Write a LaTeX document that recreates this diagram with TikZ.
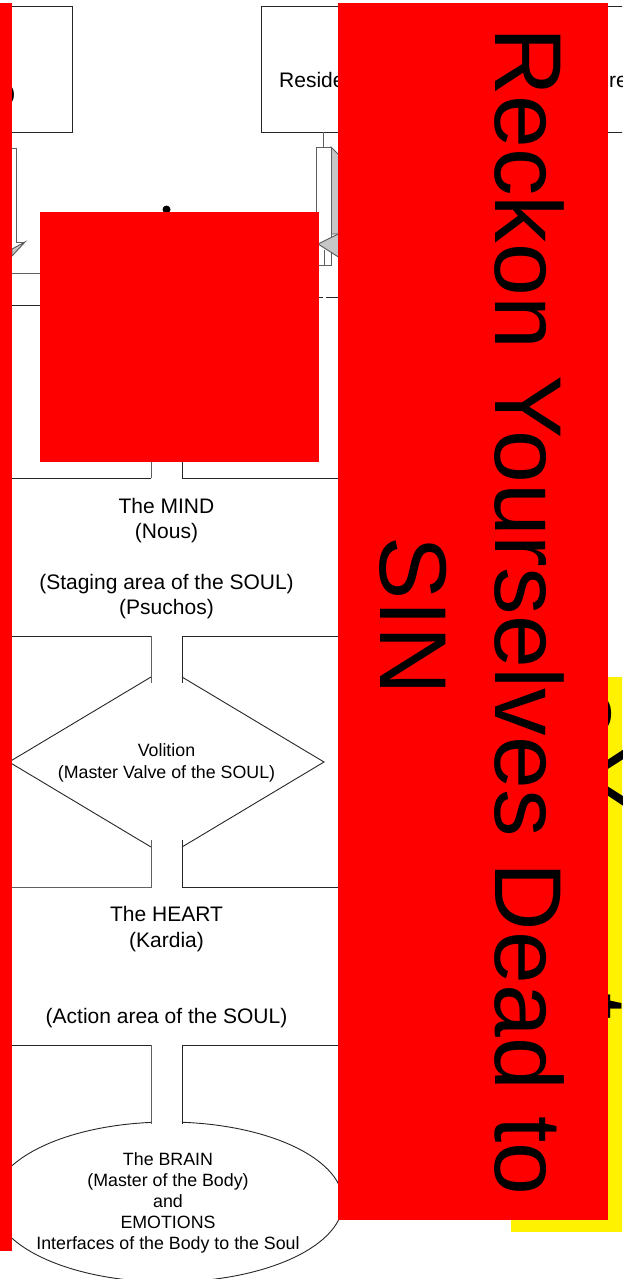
\documentclass[tikz,border=0pt]{standalone}
\usepackage{fontspec}
\setmainfont{Liberation Sans}
\begin{document}
\begin{tikzpicture}[x=1pt,y=-1pt,
  ln/.style={line width=0.9pt, draw=black!85},
  lng/.style={line width=0.9pt, draw=gray!75!black},
  txt/.style={font=\fontsize{21}{25.3}\selectfont, align=center, inner sep=0pt},
  stxt/.style={font=\fontsize{17.8}{21.5}\selectfont, align=center, inner sep=0pt},
  big/.style={font=\fontsize{95}{114}\selectfont, inner sep=0pt, rotate=-90, anchor=base},
  redbox/.style={fill=red, draw=none},
  yellowbox/.style={fill=yellow, draw=none},
  arrowface/.style={fill=gray!45, draw=gray!70!black, line width=0.9pt}
]
\useasboundingbox (0,0) rectangle (622,1279);
\clip (0,0) rectangle (622,1279);

% yellow box (behind the red one)
\fill[yellowbox] (511,677) rectangle (640,1232);
\node[big] (ye) at (560,714) {e};
\node[big] (yY) at (560,778) {Y};
\node[big] (yt) at (560,1007) {t};

% top boxes
\draw[ln] (-5,6) rectangle (72.5,132);
\node[txt, anchor=east] (lefttxt) at (15.5,95) {)};
\draw[ln] (261.5,6) rectangle (660,132);
\node[txt, anchor=base west] (res) at (279,88) {Reside};
\node[txt, anchor=base west] (re) at (609,88) {re};

% left block arrow
\draw[lng] (5,148) -- (16.7,148) -- (16.7,242) -- (25,242);
\filldraw[arrowface] (25,242) -- (12,256) -- (12,249) -- cycle;

% right block arrow
\coordinate (rtop) at (323,132);
\coordinate (rarr) at (323,147);
\draw[lng] (rtop) -- (rarr);
\filldraw[arrowface] (331,147) -- (340,156) -- (340,234) -- (331,234) -- cycle;
\draw[lng, fill=white] (316,147) rectangle (331,265);
\filldraw[arrowface] (340,233) -- (318,244) -- (340,258) -- cycle;
\draw[lng] (324,250) -- (324,265);

% small connector lines
\draw[lng] (0,273.5) -- (40,273.5);
\draw[ln] (0,305) -- (40,305);
\draw[ln, dash pattern=on 4pt off 3pt on 12pt off 2pt] (319,297) -- (345,297);

% dot
\fill (166.5,209.5) circle (4);

% MIND shape bottom
\draw[ln] (0,478) -- (151,478);
\draw[lng] (151,478) -- (151,455);
\draw[ln] (182,455) -- (182,478) -- (345,478);
\node[txt] (mind) at (166.5,558.5) {The MIND\\(Nous)\\\mbox{}\\(Staging area of the SOUL)\\(Psuchos)};

% volition diamond region
\draw[ln] (0,636) -- (151,636);
\draw[lng] (151,636) -- (151,683);
\draw[ln] (182,683) -- (182,636) -- (345,636);
\draw[ln] (151,677) -- (9,762) -- (151,847);
\draw[ln] (182,677) -- (324,762) -- (182,847);
\draw[lng] (151,840) -- (151,887) -- (0,887);
\draw[ln] (182,840) -- (182,887) -- (345,887);
\node[stxt, font=\fontsize{17.8}{22.6}\selectfont] (vol) at (166.5,763) {Volition\\(Master Valve of the SOUL)};

% heart
\node[txt] (heart) at (166.5,967) {The HEART\\(Kardia)\\\mbox{}\\\mbox{}\\(Action area of the SOUL)};
\draw[ln] (0,1045) -- (151,1045);
\draw[lng] (151,1045) -- (151,1124);
\draw[ln] (182,1124) -- (182,1045) -- (345,1045);

% brain ellipse
\coordinate (ellstart) at (182,1122.26);
\draw[ln] (ellstart) arc[start angle=274.59, end angle=624.43, x radius=175, y radius=80];
\node[stxt, font=\fontsize{17.8}{21.1}\selectfont] (brain) at (168,1203) {The BRAIN\\(Master of the Body)\\and\\EMOTIONS\\Interfaces of the Body to the Soul};

% red overlays
\fill[redbox] (0,3) rectangle (12,1251);
\fill[redbox] (40,212) rectangle (319,462);
\fill[redbox] (338,3) rectangle (608,1220);
\node[big] (reckon) at (495,611.5) {Reckon Yourselves Dead to};
\node[big] (sin) at (380,616) {SIN};
\end{tikzpicture}
\end{document}
